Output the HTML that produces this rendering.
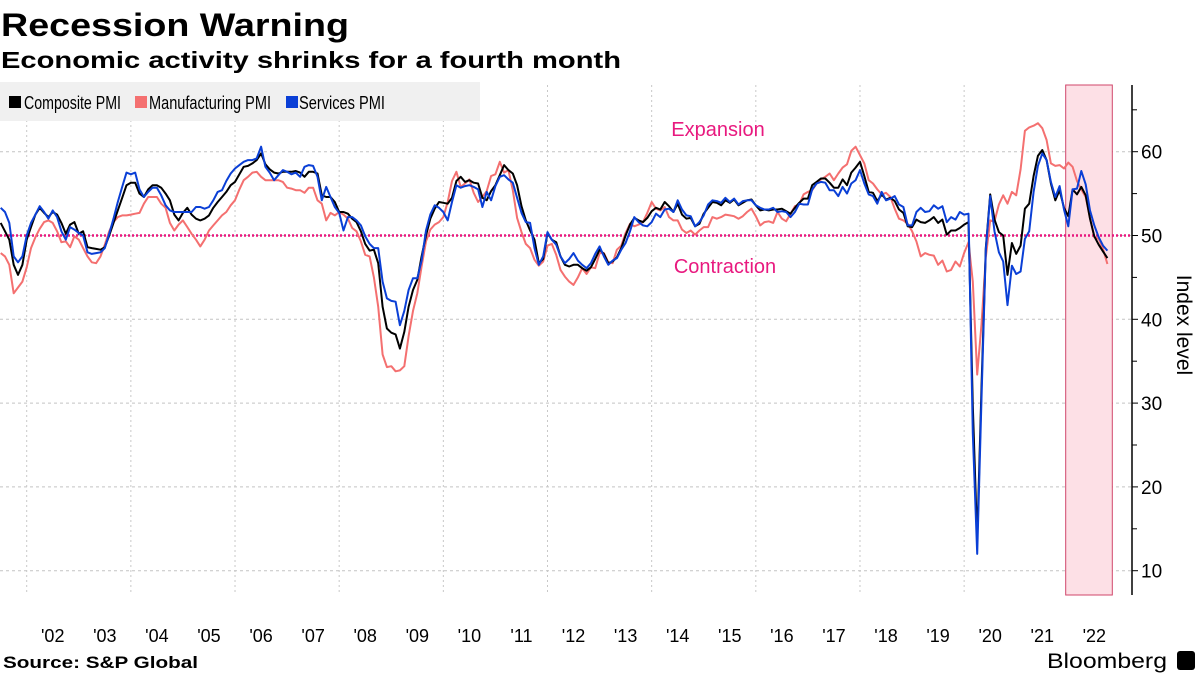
<!DOCTYPE html>
<html><head><meta charset="utf-8">
<style>
html,body{margin:0;padding:0;background:#fff;}
svg{display:block;font-family:"Liberation Sans",sans-serif;}
</style></head>
<body>
<svg id="chart" width="1200" height="675" viewBox="0 0 1200 675" xmlns="http://www.w3.org/2000/svg">
  <text x="1" y="36" font-size="32" font-weight="bold" textLength="348" lengthAdjust="spacingAndGlyphs">Recession Warning</text>
  <text x="1" y="68" font-size="23" font-weight="bold" textLength="620" lengthAdjust="spacingAndGlyphs">Economic activity shrinks for a fourth month</text>
  <g id="grid"></g>
  <rect x="1065.7" y="85" width="46.6" height="510" fill="#fde0e6" stroke="#d0466a" stroke-width="1"/>
  <g id="legend">
    <rect x="0" y="82" width="480" height="39" fill="#f0f0f0"/>
    <rect x="9" y="96" width="12" height="12" fill="#000"/>
    <text x="24" y="109" font-size="18" textLength="97" lengthAdjust="spacingAndGlyphs">Composite PMI</text>
    <rect x="135" y="96" width="12" height="12" fill="#f47070"/>
    <text x="149" y="109" font-size="18" textLength="122" lengthAdjust="spacingAndGlyphs">Manufacturing PMI</text>
    <rect x="286" y="96" width="12" height="12" fill="#0a3fd6"/>
    <text x="299" y="109" font-size="18" textLength="86" lengthAdjust="spacingAndGlyphs">Services PMI</text>
  </g>
  <text x="718" y="136" font-size="20" fill="#e8197f" text-anchor="middle">Expansion</text>
  <text x="725" y="273" font-size="20" fill="#e8197f" text-anchor="middle">Contraction</text>
  <g id="series"></g>
  <g id="axis"></g>
  <text transform="translate(1177,325) rotate(90)" font-size="21" text-anchor="middle">Index level</text>
  <g id="xaxis"></g>
  <text x="3" y="668" font-size="17" font-weight="bold" textLength="195" lengthAdjust="spacingAndGlyphs">Source: S&amp;P Global</text>
  <text x="1047" y="668" font-size="21" textLength="120" lengthAdjust="spacingAndGlyphs">Bloomberg</text>
  <rect x="1177" y="651" width="18" height="19" rx="3" fill="#000"/>
</svg>
<script>
// Monthly data, Jul 2001 .. Oct 2022
const startYear = 2001, startMonth = 6;
const composite = [
51.5,50.5,49.5,46.5,45.3,46.5,
49.5,51,52.5,53.3,52.7,52.2,52.8,52.5,51.5,50.2,51.3,51.6,
50.2,50.5,48.6,48.5,48.4,48.3,48.6,50,51.5,53,54.5,56,
56.3,56.3,55,54.6,55.5,56,56,55.7,55,54.2,52.5,51.8,
52.7,53.3,52.5,52,51.8,52,52.4,53.3,54,54.6,55.2,56,
56.4,57.3,58.2,58.3,58.6,59,59.8,58.5,57.9,57.5,57.4,57.6,
57.6,57.6,57.7,57.5,57,57.6,57.6,57.4,54.8,54.6,54.6,54,
52.8,52.8,52.6,52,51.6,50.5,49,48.2,48.3,46.7,41.5,38.9,
38.4,38.2,36.5,38.5,41.5,43.5,44.7,47.5,50,52,53.2,54,
53.9,53.8,54.5,56.5,57,56.4,56.6,56.3,56.2,54.5,54.2,55.3,
56,57.2,58.4,57.8,57.4,56,53.5,51.8,50.6,49.5,46.7,47.2,
50.3,49.5,49.2,47.5,46.5,46.3,46.5,46.5,46.1,45.8,46.2,47.2,
48.3,47.8,46.7,46.9,47.4,48.5,50,51.3,52.1,51.8,51.6,52.1,
52.9,53.3,53.1,54,53.5,52.8,53.8,52.5,52,52.1,51.1,51.4,
52.6,53.3,54,53.9,53.6,54.2,53.9,54.3,53.6,53.9,54.2,54.3,
53.6,53,53.1,53,53.1,53.1,53.2,52.9,52.6,53.3,53.9,54.4,
54.4,56,56.4,56.8,56.8,56.3,55.7,55.7,56.7,56,57.5,58.1,
58.8,57.1,55.2,55.1,54.1,54.9,54.3,54.5,54.1,53.1,52.7,51.1,
51,51.9,51.6,51.5,51.8,52.2,51.5,51.9,50.1,50.6,50.6,50.9,
51.3,51.6,29.7,13.6,31.9,48.5,54.9,51.9,50.4,50,45.3,49.1,
47.8,48.8,53.2,53.8,57.1,59.5,60.2,59,56.2,54.2,55.4,53.3,
52.3,55.5,54.9,55.8,54.8,52,49.9,48.9,48.1,47.3];
const manufacturing = [
47.9,47.5,46.5,43.1,43.8,44.5,
46.2,48.5,49.8,50.8,51.6,51.8,51.5,50.5,49.2,49.3,48.6,49.9,
49.5,48.5,47.5,46.8,46.7,47.5,48.9,50.5,51.6,52.2,52.4,52.4,
52.5,52.6,52.7,53.8,54.6,54.6,54.6,53.8,53.3,51.5,50.6,51.3,
51.8,51,50.2,49.5,48.7,49.5,50.6,51.2,51.8,52.4,52.8,53.6,
54.2,55.5,56.6,57,57.5,57.6,57,56.6,56.6,56.6,56.6,56.4,
55.7,55.6,55.4,55.4,55.1,55.7,55.7,54.2,53.8,51.8,52.7,52.4,
52.8,52.5,52,50.9,50.5,49.3,47.7,47.5,45,41.5,35.8,34.3,
34.4,33.8,33.9,34.4,38,41,43.1,46.3,49.3,50.7,51.3,51.6,
52.2,54,56.5,57.6,55.8,56.2,56.7,55.1,54,54.6,55.3,57.1,
57.3,58.8,57.5,57.8,55.4,52.1,50.4,49,48.5,47.1,46.4,46.9,
48.8,49,47.7,45.9,45.1,44.5,44.1,45,46.1,45.4,46.2,46.1,
47.9,47.9,46.8,46.7,48.3,48.8,50.3,51.4,51.1,51.3,51.6,52.7,
54,53.2,53,53.4,52.2,51.8,51.8,50.7,50.3,50.6,50.1,50.6,
51,51,52.2,52,52.2,52.5,52.4,52.3,52,52.3,52.8,53.2,
52.3,51.2,51.6,51.7,51.5,52.8,52,51.7,52.6,53.5,53.7,54.9,
55.2,55.4,56.2,56.7,57,57.4,56.6,57.4,58.1,58.5,60.1,60.6,
59.6,58.6,56.6,56.2,55.5,54.9,55.1,54.6,53.2,52,51.8,51.4,
50.5,49.3,47.5,47.9,47.7,47.6,46.5,47,45.7,45.9,46.9,46.3,
47.9,49.2,44.5,33.4,39.4,47.4,51.8,51.7,53.7,54.8,53.8,55.2,
54.8,57.9,62.5,62.9,63.1,63.4,62.8,61.4,58.6,58.3,58.4,58,
58.7,58.2,56.5,55.5,54.6,52.1,49.8,49.6,48.4,46.6];
const services = [
53.3,52.8,51.5,47.5,46.8,47.5,
50,51.5,52.5,53.5,52.8,52,53,52.2,50.5,49.5,51,50.7,
50.3,50,48,47.8,47.9,48,48.5,50.2,52,54,55.8,57.5,
57.3,57.5,55.5,54.6,55.2,55.7,55.7,54.8,53.6,53,52.8,52.8,
52.8,52.8,52.8,53.4,53.4,53.2,53.4,54.2,55.2,55.4,56.5,57.4,
58,58.4,58.8,59,59,59.2,60.6,58.2,57.5,56.6,57.2,57.8,
57.6,57.3,57.5,57,58.2,58.4,58.3,57,54.2,55.8,54.6,53.4,
52.7,50.6,52.2,52.2,51.8,51.2,49.9,49,48.5,48.5,44.5,42.5,
42.2,42.1,39.3,41,43.5,44.9,44.9,47,50.6,52.5,53.6,53.3,
52.8,51.8,54,56,55.7,55.9,56,55.8,55.5,53.4,55.2,54.2,
55.9,57,57.2,56.7,56.3,54.5,52.7,51.6,51.5,48.5,46.5,47.5,
50.4,49.5,48.9,47.5,46.7,47.2,47.9,47,46.5,46.1,46.7,47.8,
48.7,47.5,46.5,47,47.3,48.3,49.1,50.5,52.2,51.6,51.2,51.1,
51.6,52.6,52.2,53.1,53.2,52.8,54.2,53.1,52.4,52.3,51.1,51.6,
52.4,53.7,54.2,54.1,53.9,54.5,54,54.4,53.7,54.1,54.2,54.2,
53.6,53.3,53.1,53.1,53.3,52.8,52.9,52.8,52.2,52.8,53.8,53.7,
53.7,55.5,56.2,56.4,56.3,55.4,55.4,54.7,55.8,55,56.2,56.6,
57.8,56.2,54.9,54.7,53.8,55.2,54.2,54.4,54.7,53.7,53.4,51.2,
51.2,52.8,53.3,52.8,52.9,53.6,53.2,53.5,51.6,52.2,51.9,52.8,
52.5,52.6,26.4,12,30.5,48.3,54.7,50.5,48,46.9,41.7,46.4,
45.4,45.7,49.6,50.5,55.2,58.3,59.8,59,56.4,54.6,55.9,53.1,
51.1,55.5,55.6,57.7,56.1,53,51.2,49.8,48.8,48.2];
const yTicks = [10,20,30,40,50,60];
const yMinor = [15,25,35,45,55,65];
const xLabels = ["'02","'03","'04","'05","'06","'07","'08","'09","'10","'11","'12","'13","'14","'15","'16","'17","'18","'19","'20","'21","'22"];
const gridYears = [2002,2004,2006,2008,2010,2012,2014,2016,2018,2020,2022];

const NS = "http://www.w3.org/2000/svg";
function yScale(v){ return 151.7 + (60 - v) * 8.38; }
function xScale(t){ return 26.7 + 52.08 * (t - 2002); }
function tOf(i){ return startYear + (startMonth + i) / 12; }
function mk(tag, attrs, parent){ const e=document.createElementNS(NS,tag); for(const k in attrs) e.setAttribute(k,attrs[k]); parent.appendChild(e); return e; }

const grid = document.getElementById('grid');
yTicks.forEach(v=>{
  const l = mk('line',{x1:0,x2:1132,y1:yScale(v),y2:yScale(v),stroke:'#c4c4c4','stroke-width':1,'stroke-dasharray':'3,3'},grid);
  
  
});
gridYears.forEach(yr=>{
  const l = mk('line',{x1:xScale(yr),x2:xScale(yr),y1:85,y2:595,stroke:'#c8c8c8','stroke-width':1,'stroke-dasharray':'2,3'},grid);
  
  
});

const series = document.getElementById('series');
const ref = mk('line',{x1:0,x2:1132,y1:yScale(50),y2:yScale(50),stroke:'#e8197f','stroke-width':2.5,'stroke-dasharray':'2,2'},series);


function drawLine(arr, color, name){
  const d = arr.map((v,i)=>(i?'L':'M')+xScale(tOf(i)).toFixed(1)+','+yScale(v).toFixed(1)).join('');
  const p = mk('path',{d:d,fill:'none',stroke:color,'stroke-width':2,'stroke-linejoin':'round'},series);
  
  
}
drawLine(manufacturing,'#f47070','manufacturing-pmi-line');
drawLine(composite,'#000000','composite-pmi-line');
drawLine(services,'#0a3fd6','services-pmi-line');

const axis = document.getElementById('axis');
const al = mk('line',{x1:1132,x2:1132,y1:85,y2:595,stroke:'#000','stroke-width':1.5},axis);


yMinor.forEach(v=>{
  const t = mk('line',{x1:1132,x2:1137,y1:yScale(v),y2:yScale(v),stroke:'#000','stroke-width':1},axis);
  
  
});
yTicks.forEach(v=>{
  const t = mk('line',{x1:1132,x2:1138,y1:yScale(v),y2:yScale(v),stroke:'#000','stroke-width':1},axis);
  
  
  const tx = mk('text',{x:1141,y:yScale(v)+7,'font-size':19},axis);
  tx.textContent = v;
  
  
});
const xaxis = document.getElementById('xaxis');
xLabels.forEach((lab,i)=>{
  const tx = mk('text',{x:xScale(2002+i+0.5),y:642,'font-size':18,'text-anchor':'middle'},xaxis);
  tx.textContent = lab;
  
  
});
</script>
</body></html>
